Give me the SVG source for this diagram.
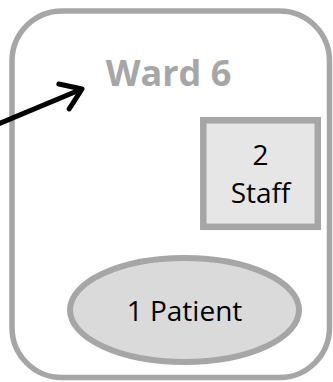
<svg xmlns="http://www.w3.org/2000/svg" width="333" height="382" viewBox="0 0 333 382">
<defs>
<style>
.frame{fill:#ffffff;stroke:#a6a6a6;stroke-width:5.5}
.box{fill:#e6e6e6;stroke:#a6a6a6;stroke-width:6.5}
.ell{fill:#dadada;stroke:#a6a6a6;stroke-width:6}
.lbl{font-family:"Open Sans","Liberation Sans",sans-serif;font-size:28px;fill:#000000;text-anchor:middle}
.title{font-family:"Open Sans","Liberation Sans",sans-serif;font-size:36px;font-weight:bold;fill:#a6a6a6;text-anchor:middle}
.conn{fill:none;stroke:#000000;stroke-width:5}
</style>
<marker id="arrow" markerUnits="userSpaceOnUse" markerWidth="40" markerHeight="40" refX="30" refY="20" orient="auto" viewBox="0 0 40 40">
<polyline points="10.5,6.5 30,20 10.5,33.5" fill="none" stroke="#000000" stroke-width="5" stroke-linecap="round" stroke-linejoin="round"/>
</marker>
</defs>
<g id="ward6">
<rect class="frame" x="12" y="11" width="317.5" height="366.5" rx="50" ry="50"/>
<text class="title" x="168.5" y="85.5">Ward 6</text>
</g>
<g id="staff">
<rect class="box" x="203.3" y="120.3" width="114.5" height="106.5"/>
<text class="lbl" x="260.5" y="165">2</text>
<text class="lbl" x="260.5" y="203">Staff</text>
</g>
<g id="patient">
<ellipse class="ell" cx="184.5" cy="310" rx="114.5" ry="52"/>
<text class="lbl" x="184.5" y="321">1 Patient</text>
</g>
<g id="connectors">
<line class="conn" x1="-2" y1="124" x2="82" y2="89" marker-end="url(#arrow)"/>
</g>
</svg>
